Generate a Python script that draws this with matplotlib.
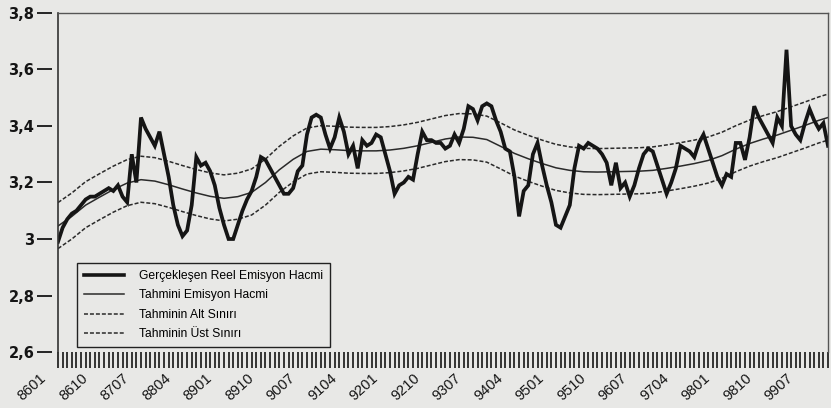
import numpy as np
import matplotlib
matplotlib.use('Agg')
import matplotlib.pyplot as plt
import matplotlib.transforms as mtransforms
from matplotlib.lines import Line2D

# Gerçekleşen reel emisyon hacmi (monthly, 8601 .. 9912)
actual = [
    2.99, 3.04, 3.07, 3.09, 3.10, 3.12, 3.14, 3.15, 3.15, 3.16,
    3.17, 3.18, 3.17, 3.19, 3.15, 3.13, 3.30, 3.20, 3.43, 3.39,
    3.36, 3.33, 3.38, 3.30, 3.22, 3.12, 3.05, 3.01, 3.03, 3.12,
    3.29, 3.26, 3.27, 3.24, 3.19, 3.11, 3.05, 3.00, 3.00, 3.05,
    3.10, 3.14, 3.17, 3.22, 3.29, 3.28, 3.25, 3.22, 3.19, 3.16,
    3.16, 3.18, 3.24, 3.26, 3.37, 3.43, 3.44, 3.43, 3.37, 3.32,
    3.36, 3.43, 3.38, 3.30, 3.33, 3.25, 3.35, 3.33, 3.34, 3.37,
    3.36, 3.30, 3.24, 3.16, 3.19, 3.20, 3.22, 3.21, 3.30, 3.38,
    3.35, 3.35, 3.34, 3.34, 3.32, 3.33, 3.37, 3.34, 3.39, 3.47,
    3.46, 3.42, 3.47, 3.48, 3.47, 3.42, 3.38, 3.32, 3.31, 3.22,
    3.08, 3.17, 3.19, 3.30, 3.34, 3.26, 3.19, 3.13, 3.05, 3.04,
    3.08, 3.12, 3.25, 3.33, 3.32, 3.34, 3.33, 3.32, 3.30, 3.27,
    3.19, 3.27, 3.18, 3.20, 3.15, 3.19, 3.25, 3.30, 3.32, 3.31,
    3.26, 3.21, 3.16, 3.20, 3.25, 3.33, 3.32, 3.31, 3.29, 3.34,
    3.37, 3.32, 3.27, 3.22, 3.19, 3.23, 3.22, 3.34, 3.34, 3.28,
    3.36, 3.47, 3.43, 3.40, 3.37, 3.34, 3.43, 3.40, 3.67, 3.40,
    3.37, 3.35, 3.41, 3.46, 3.42, 3.39, 3.41, 3.33,
]

# Tahmini emisyon hacmi and bounds (sampled every 3 months)
fc_months = list(range(0, 166, 3)) + [167]
forecast = [
    3.046, 3.080, 3.120, 3.148, 3.175, 3.198, 3.210, 3.205, 3.192, 3.177,
    3.163, 3.151, 3.144, 3.150, 3.165, 3.200, 3.245, 3.282, 3.310, 3.318,
    3.316, 3.313, 3.312, 3.312, 3.315, 3.321, 3.330, 3.342, 3.354, 3.361,
    3.360, 3.352, 3.328, 3.303, 3.284, 3.267, 3.252, 3.243, 3.238, 3.237,
    3.238, 3.239, 3.240, 3.243, 3.250, 3.258, 3.267, 3.278, 3.295, 3.318,
    3.338, 3.354, 3.368, 3.385, 3.402, 3.420, 3.430,
]
upper = [
    3.129, 3.163, 3.203, 3.231, 3.258, 3.281, 3.293, 3.288, 3.275, 3.260,
    3.246, 3.234, 3.227, 3.233, 3.248, 3.283, 3.328, 3.365, 3.393, 3.401,
    3.399, 3.396, 3.395, 3.395, 3.398, 3.404, 3.413, 3.425, 3.437, 3.444,
    3.443, 3.435, 3.411, 3.386, 3.367, 3.350, 3.335, 3.326, 3.321, 3.320,
    3.321, 3.322, 3.323, 3.326, 3.333, 3.341, 3.350, 3.361, 3.378, 3.401,
    3.421, 3.437, 3.451, 3.468, 3.485, 3.503, 3.513,
]
lower = [
    2.966, 3.000, 3.040, 3.068, 3.095, 3.118, 3.130, 3.125, 3.112, 3.097,
    3.083, 3.071, 3.064, 3.070, 3.085, 3.120, 3.165, 3.202, 3.230, 3.238,
    3.236, 3.233, 3.232, 3.232, 3.235, 3.241, 3.250, 3.262, 3.274, 3.281,
    3.280, 3.272, 3.248, 3.223, 3.204, 3.187, 3.172, 3.163, 3.158, 3.157,
    3.158, 3.159, 3.160, 3.163, 3.170, 3.178, 3.187, 3.198, 3.215, 3.238,
    3.258, 3.274, 3.288, 3.305, 3.322, 3.340, 3.350,
]

x_ticklabels = ['8601', '8610', '8707', '8804', '8901', '8910', '9007', '9104',
                '9201', '9210', '9307', '9404', '9501', '9510', '9607', '9704',
                '9801', '9810', '9907']
y_ticks = [2.6, 2.8, 3.0, 3.2, 3.4, 3.6, 3.8]
y_ticklabels = ['2,6', '2,8', '3', '3,2', '3,4', '3,6', '3,8']
legend_labels = ['Gerçekleşen Reel Emisyon Hacmi', 'Tahmini Emisyon Hacmi',
                 'Tahminin Alt Sınırı', 'Tahminin Üst Sınırı']

bg = '#e8e8e6'
ink = '#151515'
fig = plt.figure(figsize=(8.31, 4.08), dpi=100, facecolor=bg)
ax = fig.add_axes([58 / 831, 56 / 408, 770 / 831, 339 / 408])
ax.set_facecolor(bg)

months = np.arange(len(actual))
dash = (0, (2.6, 1.3))
ax.plot(fc_months, upper, color='#2a2a2a', lw=1.1, ls=dash)
ax.plot(fc_months, lower, color='#2a2a2a', lw=1.1, ls=dash)
ax.plot(fc_months, forecast, color='#2a2a2a', lw=1.1)
ax.plot(months, actual, color=ink, lw=2.7, solid_joinstyle='miter')

ax.set_xlim(0, 167)
ax.set_ylim(2.6, 3.8)

# spines
for s in ['top', 'right']:
    ax.spines[s].set_color('#555555')
    ax.spines[s].set_linewidth(1.0)
ax.spines['bottom'].set_visible(False)
ax.spines['left'].set_position(('outward', 4))
ax.spines['left'].set_visible(False)
ax.axvline(0, color='#333333', lw=1.2, clip_on=False)

# y axis
ax.set_yticks(y_ticks)
ax.set_yticklabels(y_ticklabels, fontsize=10.5, fontweight='bold', color=ink)
ax.tick_params(axis='y', direction='out', length=10.5, width=1.3, pad=2.5, color=ink)

# x axis
ax.set_xticks(np.arange(0, 167, 9))
ax.set_xticks(np.arange(0, 168, 1), minor=True)
ax.set_xticklabels(x_ticklabels, rotation=42, ha='right', fontsize=10.5, color=ink,
                   family=['Liberation Sans', 'DejaVu Sans'])
ax.tick_params(axis='x', which='both', direction='out', length=11.5, width=1.2,
               pad=2, color=ink)
off = mtransforms.ScaledTranslation(-0.09, 0, fig.dpi_scale_trans)
for lab in ax.get_xticklabels():
    lab.set_transform(lab.get_transform() + off)

# legend
handles = [
    Line2D([], [], color=ink, lw=2.6),
    Line2D([], [], color='#2a2a2a', lw=1.1),
    Line2D([], [], color='#2a2a2a', lw=1.1, ls=dash),
    Line2D([], [], color='#2a2a2a', lw=1.1, ls=dash),
]
leg = ax.legend(handles, legend_labels, loc='lower left',
                bbox_to_anchor=(19 / 770, 5 / 339), borderaxespad=0,
                prop={'family': ['Liberation Sans', 'DejaVu Sans'], 'size': 8.7},
                handlelength=3.3, handletextpad=1.3, labelspacing=0.62,
                borderpad=0.55, fancybox=False, framealpha=1, facecolor=bg,
                edgecolor='#222222')
leg.get_frame().set_linewidth(1.0)

fig.savefig('out.png', dpi=100, facecolor=bg)
